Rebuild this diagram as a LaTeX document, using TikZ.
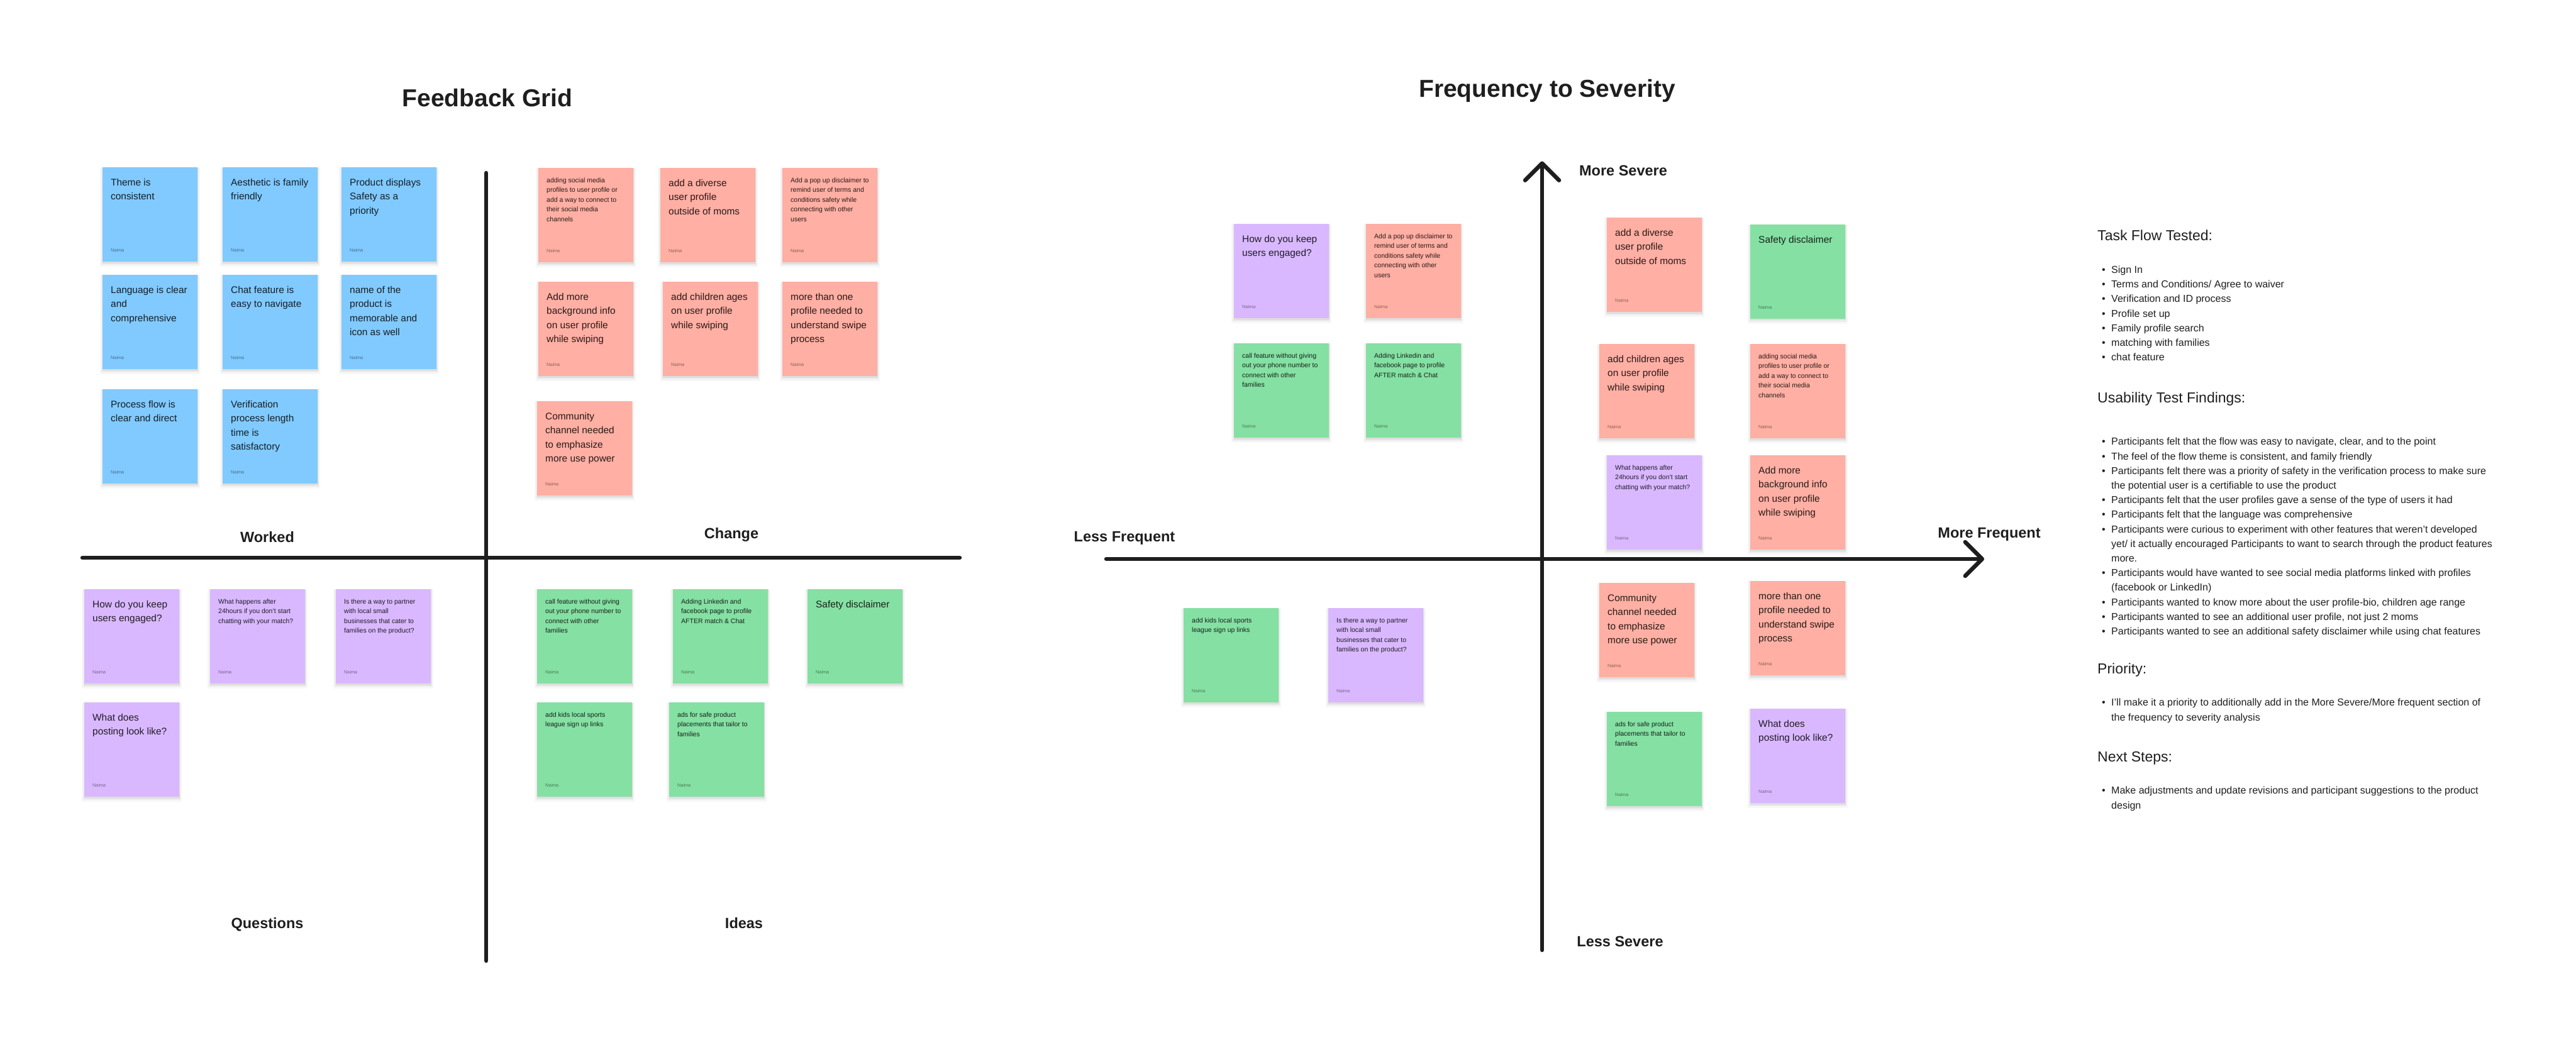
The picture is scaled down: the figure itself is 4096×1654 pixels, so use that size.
\documentclass[tikz,border=0pt]{standalone}
\usepackage{fontspec}
\setmainfont{Liberation Sans}
\usetikzlibrary{calc,arrows.meta}
\definecolor{stblue}{HTML}{80CAFF}
\definecolor{stred}{HTML}{FFAFA3}
\definecolor{stviolet}{HTML}{D9B8FF}
\definecolor{stgreen}{HTML}{85E0A3}
\definecolor{ink}{HTML}{1E1E1E}

\newcommand\Lt[1]{\parbox[t]{140pt}{\raggedright\fontsize{15.4}{22.4}\selectfont #1}}
\newcommand\St[1]{\parbox[t]{140pt}{\raggedright\fontsize{10.5}{15.5}\selectfont #1}}

\newcommand\stickynote[6]{%
  \fill[black, opacity=0.03] (#2-4,#3) rectangle (#2+155,#3+158);
  \fill[black, opacity=0.045] (#2-2,#3+1) rectangle (#2+153,#3+155);
  \fill[black, opacity=0.06] (#2-0.5,#3+1) rectangle (#2+151.5,#3+152.5);
  \node[stickybox, fill=#4] (#1) at (#2,#3) {};
  \node[stickytext] (#1-t) at ($(#1.north west)+(13,#5)$) {#6};
  \node[naima] (#1-n) at ($(#1.south west)+(13,-15.5)$) {Naima};
}
\newcommand\bigsticky[5]{\stickynote{#1}{#2}{#3}{#4}{29.5}{\Lt{#5}}}
\newcommand\smallsticky[5]{\stickynote{#1}{#2}{#3}{#4}{23}{\St{#5}}}

\newcommand\bitem[1]{\hbox{\makebox[15pt][l]{\textbullet}#1}}
\newcommand\bcont[1]{\hbox{\hspace*{15pt}#1}}
\newcommand\blist[1]{\parbox[t]{720pt}{\fontsize{16}{23.2}\selectfont #1}}

\tikzset{
  stickybox/.style={rectangle, minimum width=151pt, minimum height=150pt, inner sep=0pt, outer sep=0pt, anchor=north west, draw=none},
  stickytext/.style={anchor=base west, inner sep=0pt, text=black, text opacity=0.85},
  naima/.style={anchor=base west, inner sep=0pt, text=black, text opacity=0.45, font=\fontsize{7.3}{8}\selectfont},
  gridline/.style={line width=6.5pt, draw=ink, line cap=round},
  axisline/.style={line width=6.5pt, draw=ink, line cap=round, line join=round},
  boldlabel/.style={anchor=base, inner sep=0pt, text=ink, font=\bfseries\fontsize{23.5}{28}\selectfont},
  titlelabel/.style={anchor=base, inner sep=0pt, text=ink, font=\bfseries\fontsize{39}{46}\selectfont},
  heading/.style={anchor=base west, inner sep=0pt, text=ink, font=\fontsize{23}{28}\selectfont},
  listtext/.style={anchor=base west, inner sep=0pt, text=ink},
}

\begin{document}
\begin{tikzpicture}[x=1pt, y=-1pt]
\fill[white] (0,0) rectangle (4096,1654);
\useasboundingbox (0,0) rectangle (4096,1654);

% ================= Feedback Grid =================
\node[titlelabel] (fgTitle) at (775,169) {Feedback Grid};

\coordinate (fgT) at (773,275);
\coordinate (fgB) at (773,1528);
\coordinate (fgL) at (131,887);
\coordinate (fgR) at (1526,887);
\draw[gridline] (fgT) -- (fgB);
\draw[gridline] (fgL) -- (fgR);

\node[boldlabel] (lWorked) at (425,862) {Worked};
\node[boldlabel] (lChange) at (1163,856) {Change};
\node[boldlabel] (lQuestions) at (425,1476) {Questions};
\node[boldlabel] (lIdeas) at (1183,1476) {Ideas};

% Worked (blue)
\bigsticky{b1}{163}{266}{stblue}{Theme is\\consistent}
\bigsticky{b2}{354}{266}{stblue}{Aesthetic is family\\friendly}
\bigsticky{b3}{543}{266}{stblue}{Product displays\\Safety as a\\priority}
\bigsticky{b4}{163}{437}{stblue}{Language is clear\\and\\comprehensive}
\bigsticky{b5}{354}{437}{stblue}{Chat feature is\\easy to navigate}
\bigsticky{b6}{543}{437}{stblue}{name of the\\product is\\memorable and\\icon as well}
\bigsticky{b7}{163}{619}{stblue}{Process flow is\\clear and direct}
\bigsticky{b8}{354}{619}{stblue}{Verification\\process length\\time is\\satisfactory}

% Change (red)
\smallsticky{r1}{856}{267}{stred}{adding social media\\profiles to user profile or\\add a way to connect to\\their social media\\channels}
\bigsticky{r2}{1050}{267}{stred}{add a diverse\\user profile\\outside of moms}
\smallsticky{r3}{1244}{267}{stred}{Add a pop up disclaimer to\\remind user of terms and\\conditions safety while\\connecting with other\\users}
\bigsticky{r4}{856}{448}{stred}{Add more\\background info\\on user profile\\while swiping}
\bigsticky{r5}{1054}{448}{stred}{add children ages\\on user profile\\while swiping}
\bigsticky{r6}{1244}{448}{stred}{more than one\\profile needed to\\understand swipe\\process}
\bigsticky{r7}{854}{638}{stred}{Community\\channel needed\\to emphasize\\more use power}

% Questions (violet)
\bigsticky{q1}{134}{937}{stviolet}{How do you keep\\users engaged?}
\smallsticky{q2}{334}{937}{stviolet}{What happens after\\24hours if you don’t start\\chatting with your match?}
\smallsticky{q3}{534}{937}{stviolet}{Is there a way to partner\\with local small\\businesses that cater to\\families on the product?}
\bigsticky{q4}{134}{1117}{stviolet}{What does\\posting look like?}

% Ideas (green)
\smallsticky{g1}{854}{937}{stgreen}{call feature without giving\\out your phone number to\\connect with other\\families}
\smallsticky{g2}{1070}{937}{stgreen}{Adding Linkedin and\\facebook page to profile\\AFTER match \& Chat}
\bigsticky{g3}{1284}{937}{stgreen}{Safety disclaimer}
\smallsticky{g4}{854}{1117}{stgreen}{add kids local sports\\league sign up links}
\smallsticky{g5}{1064}{1117}{stgreen}{ads for safe product\\placements that tailor to\\families}

% ================= Frequency to Severity =================
\node[titlelabel] (fsTitle) at (2460,154) {Frequency to Severity};

\coordinate (fsT) at (2452,256.5);
\coordinate (fsB) at (2452,1511);
\coordinate (fsL) at (1759,889);
\coordinate (fsR) at (3155,889);
\draw[axisline, -{Straight Barb[length=27pt, width=54pt, round]}] (fsB) -- (fsT);
\draw[axisline, -{Straight Barb[length=27pt, width=54pt, round]}] (fsL) -- (fsR);

\node[boldlabel] (lMS) at (2581,279) {More Severe};
\node[boldlabel] (lLS) at (2576,1505) {Less Severe};
\node[boldlabel] (lLF) at (1788,861) {Less Frequent};
\node[boldlabel] (lMF) at (3163,855) {More Frequent};

\bigsticky{fq1}{1962}{356}{stviolet}{How do you keep\\users engaged?}
\smallsticky{fr3}{2172}{356}{stred}{Add a pop up disclaimer to\\remind user of terms and\\conditions safety while\\connecting with other\\users}
\smallsticky{fg1}{1962}{546}{stgreen}{call feature without giving\\out your phone number to\\connect with other\\families}
\smallsticky{fg2}{2172}{546}{stgreen}{Adding Linkedin and\\facebook page to profile\\AFTER match \& Chat}

\bigsticky{fr2}{2555}{346}{stred}{add a diverse\\user profile\\outside of moms}
\bigsticky{fg3}{2783}{356.5}{stgreen}{Safety disclaimer}
\bigsticky{fr5}{2543}{547}{stred}{add children ages\\on user profile\\while swiping}
\smallsticky{fr1}{2783}{547}{stred}{adding social media\\profiles to user profile or\\add a way to connect to\\their social media\\channels}
\smallsticky{fq2}{2555}{724}{stviolet}{What happens after\\24hours if you don’t start\\chatting with your match?}
\bigsticky{fr4}{2783}{724}{stred}{Add more\\background info\\on user profile\\while swiping}

\bigsticky{fr7}{2543}{927}{stred}{Community\\channel needed\\to emphasize\\more use power}
\bigsticky{fr6}{2783}{924}{stred}{more than one\\profile needed to\\understand swipe\\process}
\smallsticky{fg5}{2555}{1132}{stgreen}{ads for safe product\\placements that tailor to\\families}
\bigsticky{fq4}{2783}{1127}{stviolet}{What does\\posting look like?}

\smallsticky{fg4}{1882}{967}{stgreen}{add kids local sports\\league sign up links}
\smallsticky{fq3}{2112}{967}{stviolet}{Is there a way to partner\\with local small\\businesses that cater to\\families on the product?}

% ================= Notes panel =================
\node[heading] (hTask) at (3335,382.7) {Task Flow Tested:};
\node[listtext] (lsTask) at (3342,434.5) {\blist{%
  \bitem{Sign In}%
  \bitem{Terms and Conditions/ Agree to waiver}%
  \bitem{Verification and ID process}%
  \bitem{Profile set up}%
  \bitem{Family profile search}%
  \bitem{matching with families}%
  \bitem{chat feature}}};

\node[heading] (hFind) at (3335,640) {Usability Test Findings:};
\node[listtext] (lsFind) at (3342,707.8) {\blist{%
  \bitem{Participants felt that the flow was easy to navigate, clear, and to the point}%
  \bitem{The feel of the flow theme is consistent, and family friendly}%
  \bitem{Participants felt there was a priority of safety in the verification process to make sure}%
  \bcont{the potential user is a certifiable to use the product}%
  \bitem{Participants felt that the user profiles gave a sense of the type of users it had}%
  \bitem{Participants felt that the language was comprehensive}%
  \bitem{Participants were curious to experiment with other features that weren’t developed}%
  \bcont{yet/ it actually encouraged Participants to want to search through the product features}%
  \bcont{more.}%
  \bitem{Participants would have wanted to see social media platforms linked with profiles}%
  \bcont{(facebook or LinkedIn)}%
  \bitem{Participants wanted to know more about the user profile-bio, children age range}%
  \bitem{Participants wanted to see an additional user profile, not just 2 moms}%
  \bitem{Participants wanted to see an additional safety disclaimer while using chat features}}};

\node[heading] (hPrio) at (3335,1071.7) {Priority:};
\node[listtext] (lsPrio) at (3342,1122.8) {\blist{%
  \bitem{I’ll make it a priority to additionally add in the More Severe/More frequent section of}%
  \bcont{the frequency to severity analysis}}};

\node[heading] (hNext) at (3335,1211) {Next Steps:};
\node[listtext] (lsNext) at (3342,1262.8) {\blist{%
  \bitem{Make adjustments and update revisions and participant suggestions to the product}%
  \bcont{design}}};
\end{tikzpicture}
\end{document}
